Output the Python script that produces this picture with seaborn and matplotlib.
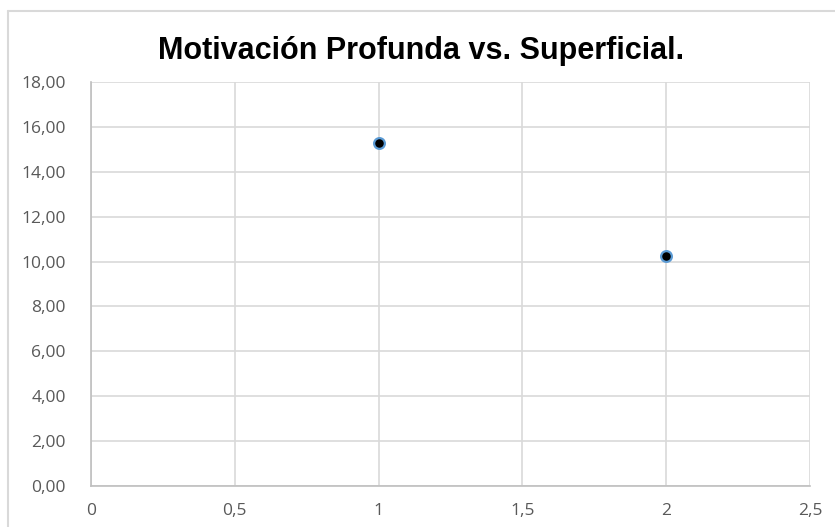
import numpy as np
import pandas as pd
import seaborn as sns
import matplotlib as mpl
from matplotlib import pyplot as plt

# data
x_vals = [1, 2]
y_vals = [15.3, 10.25]
x_ticks = [0, 0.5, 1, 1.5, 2, 2.5]
y_ticks = [0, 2, 4, 6, 8, 10, 12, 14, 16, 18]
title = 'Motivación Profunda vs. Superficial.'

df = pd.DataFrame({'x': x_vals, 'y': y_vals})

sns.set_style('white')
plt.rcParams['font.family'] = ['Open Sans', 'DejaVu Sans']

fig = plt.figure(figsize=(8.35, 5.27), dpi=100)
W, H = 835, 527
ax = fig.add_axes([91 / W, 1 - 486 / H, (810 - 91) / W, (486 - 82) / H])

sns.scatterplot(data=df, x='x', y='y', ax=ax, s=60, color='black',
                edgecolor='#5b9bd5', linewidth=1.6, zorder=3)

ax.set_xlim(0, 2.5)
ax.set_ylim(0, 18)
ax.set_xticks(x_ticks)
ax.set_yticks(y_ticks)
ax.set_xticklabels([('%g' % v).replace('.', ',') for v in x_ticks])
ax.set_yticklabels([('%.2f' % v).replace('.', ',') for v in y_ticks])
ax.tick_params(axis='both', length=0, labelsize=12.5, labelcolor='#595959')
ax.tick_params(axis='x', pad=12)
ax.tick_params(axis='y', pad=18)
ax.grid(True, color='#d9d9d9', linewidth=1.2)
ax.set_axisbelow(True)
for side in ['top', 'right']:
    ax.spines[side].set_visible(False)
for side in ['left', 'bottom']:
    ax.spines[side].set_color('#bfbfbf')
    ax.spines[side].set_linewidth(1.2)
ax.set_xlabel('')
ax.set_ylabel('')

# outer chart frame (only top/left visible in reference)
fig.add_artist(plt.Line2D([8 / W, 8 / W], [0, 1 - 11 / H], color='#d9d9d9', lw=1.5))
fig.add_artist(plt.Line2D([8 / W, 1], [1 - 11 / H, 1 - 11 / H], color='#d9d9d9', lw=1.5))

fig.text(421 / W, 1 - 51 / H, title, ha='center', va='center', color='black',
         fontsize=22, fontweight='bold', family=['Liberation Sans', 'DejaVu Sans'])

fig.savefig('out.png', dpi=100)
